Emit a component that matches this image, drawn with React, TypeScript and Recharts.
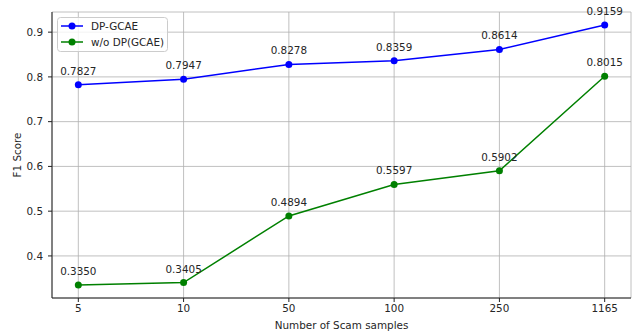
import React from 'react';
import { LineChart, Line, XAxis, YAxis, CartesianGrid, Legend, Label } from 'recharts';

const samples = ['5', '10', '50', '100', '250', '1165'];
const dpGcae = [0.7827, 0.7947, 0.8278, 0.8359, 0.8614, 0.9159];
const woDp = [0.335, 0.3405, 0.4894, 0.5597, 0.5902, 0.8015];
const yTicks = [0.4, 0.5, 0.6, 0.7, 0.8, 0.9];

const data = samples.map((s, i) => ({ idx: i, name: s, dp: dpGcae[i], wo: woDp[i] }));

const FONT = "'DejaVu Sans', sans-serif";
const TEXT = '#262626';
const FS = 10.4;

const ValueLabel = (props: any) => {
  const { x, y, value } = props;
  return (
    <text x={x} y={y - 14} textAnchor="middle" dominantBaseline="central" fontSize={FS} fontFamily={FONT} fill={TEXT}>
      {Number(value).toFixed(4)}
    </text>
  );
};

const LegendBox = () => {
  const items = [
    { name: 'DP-GCAE', color: '#0000ff' },
    { name: 'w/o DP(GCAE)', color: '#008000' },
  ];
  return (
    <svg width={112} height={36} style={{ display: 'block' }}>
      <rect x={0.5} y={0.5} width={110} height={34} rx={3} fill="rgba(255,255,255,0.8)" stroke="#cccccc" />
      {items.map((it, i) => (
        <g key={it.name}>
          <line x1={4} x2={26} y1={9 + i * 16} y2={9 + i * 16} stroke={it.color} strokeWidth={1.5} />
          <circle cx={15} cy={9 + i * 16} r={3.5} fill={it.color} />
          <text x={34} y={9 + i * 16} dominantBaseline="central" fontSize={FS} fontFamily={FONT} fill={TEXT}>
            {it.name}
          </text>
        </g>
      ))}
    </svg>
  );
};

export default function App() {
  return (
    <div style={{ position: 'absolute', left: 0, top: 0, width: 638, height: 335, background: '#fff' }}>
      <LineChart width={638} height={335} data={data} margin={{ top: 12, right: 7, bottom: 0, left: 0 }}>
        <CartesianGrid stroke="#b0b0b0" strokeWidth={0.8} />
        <XAxis
          dataKey="idx"
          type="number"
          domain={[-0.25, 5.25]}
          ticks={[0, 1, 2, 3, 4, 5]}
          tickFormatter={(v: number) => samples[v]}
          height={37}
          tickSize={4}
          tickMargin={3}
          stroke="#222"
          tick={{ fontSize: FS, fontFamily: FONT, fill: TEXT }}
          allowDataOverflow
        >
          <Label
            content={() => (
              <text x={341.5} y={325} textAnchor="middle" dominantBaseline="central" fontSize={FS} fontFamily={FONT} fill={TEXT}>
                Number of Scam samples
              </text>
            )}
          />
        </XAxis>
        <XAxis
          xAxisId="top"
          orientation="top"
          type="number"
          domain={[-0.25, 5.25]}
          height={0}
          tick={false}
          tickLine={false}
          stroke="#222"
          allowDataOverflow
        />
        <YAxis
          type="number"
          domain={[0.306, 0.945]}
          ticks={yTicks}
          tickFormatter={(v: number) => v.toFixed(1)}
          width={52}
          tickSize={4}
          tickMargin={5}
          stroke="#222"
          tick={{ fontSize: FS, fontFamily: FONT, fill: TEXT }}
          allowDataOverflow
        >
          <Label
            content={() => (
              <text
                x={17}
                y={155}
                transform="rotate(-90 17 155)"
                textAnchor="middle"
                dominantBaseline="central"
                fontSize={FS}
                fontFamily={FONT}
                fill={TEXT}
              >
                F1 Score
              </text>
            )}
          />
        </YAxis>
        <YAxis
          yAxisId="right"
          orientation="right"
          type="number"
          domain={[0.306, 0.945]}
          width={0}
          tick={false}
          tickLine={false}
          stroke="#222"
          allowDataOverflow
        />
        <Legend
          layout="horizontal"
          verticalAlign="middle"
          align="center"
          content={() => <LegendBox />}
          wrapperStyle={{ position: 'absolute', left: 57, top: 17, width: 112, height: 36 }}
        />
        <Line
          dataKey="dp"
          name="DP-GCAE"
          stroke="#0000ff"
          strokeWidth={1.5}
          dot={{ r: 3.5, fill: '#0000ff', stroke: '#0000ff', strokeWidth: 0 }}
          activeDot={false}
          isAnimationActive={false}
          label={<ValueLabel />}
        />
        <Line
          dataKey="wo"
          name="w/o DP(GCAE)"
          stroke="#008000"
          strokeWidth={1.5}
          dot={{ r: 3.5, fill: '#008000', stroke: '#008000', strokeWidth: 0 }}
          activeDot={false}
          isAnimationActive={false}
          label={<ValueLabel />}
        />
      </LineChart>
    </div>
  );
}
